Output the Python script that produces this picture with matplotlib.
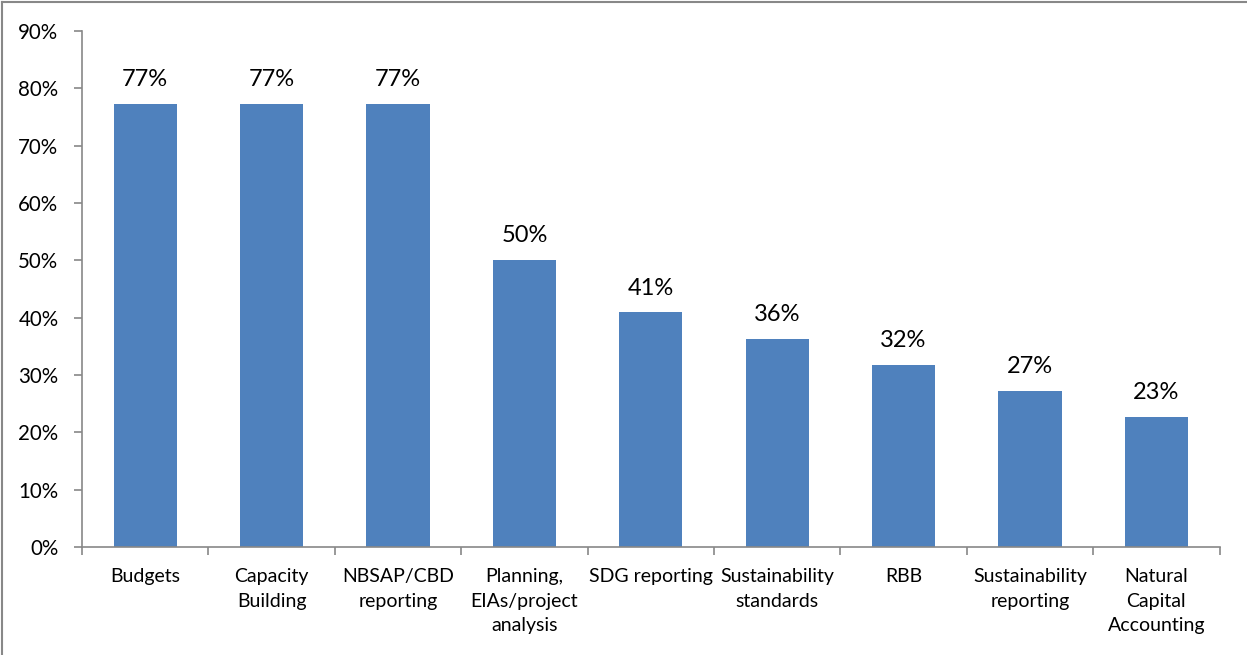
import matplotlib.pyplot as plt
from matplotlib.lines import Line2D
from matplotlib.ticker import FuncFormatter

categories = ["Budgets", "Capacity\nBuilding", "NBSAP/CBD\nreporting",
              "Planning,\nEIAs/project\nanalysis", "SDG reporting",
              "Sustainability\nstandards", "RBB", "Sustainability\nreporting",
              "Natural\nCapital\nAccounting"]
values = [77.27, 77.27, 77.27, 50.0, 40.91, 36.36, 31.82, 27.27, 22.73]
labels = ["77%", "77%", "77%", "50%", "41%", "36%", "32%", "27%", "23%"]

plt.rcParams['font.family'] = ['Lato', 'DejaVu Sans']

fig = plt.figure(figsize=(12.47, 6.55), dpi=100)
ax = fig.add_axes([0.0658, 0.1649, 0.9122, 0.7878])

x = list(range(len(categories)))
bars = ax.bar(x, values, width=0.5, color="#4f81bd")
for b, lab in zip(bars, labels):
    ax.annotate(lab, (b.get_x() + b.get_width() / 2, b.get_height()),
                xytext=(0, 10), textcoords="offset points",
                ha="center", va="bottom", fontsize=17)

ax.set_xlim(-0.5, len(categories) - 0.5)
ax.set_ylim(0, 90)
ax.set_yticks(range(0, 91, 10))
ax.yaxis.set_major_formatter(FuncFormatter(lambda v, p: f"{int(v)}%"))
ax.set_xticks(x)
ax.set_xticklabels(categories, fontsize=14, linespacing=1.55)
ax.set_xticks([i - 0.5 for i in range(len(categories) + 1)], minor=True)
ax.tick_params(axis="x", which="major", length=0, pad=15)
ax.tick_params(axis="x", which="minor", length=6, color="#888888", width=1.2)
ax.tick_params(axis="y", length=6, color="#888888", width=1.2, labelsize=14.8, pad=11)

for s in ["top", "right"]:
    ax.spines[s].set_visible(False)
for s in ["left", "bottom"]:
    ax.spines[s].set_color("#888888")
    ax.spines[s].set_linewidth(1.2)

# outer frame of the chart area
fig.add_artist(Line2D([0.002, 0.002], [0, 0.997], transform=fig.transFigure,
                      color="#888888", lw=1.5))
fig.add_artist(Line2D([0.002, 1], [0.997, 0.997], transform=fig.transFigure,
                      color="#888888", lw=1.5))

fig.savefig("out.png", dpi=100)
